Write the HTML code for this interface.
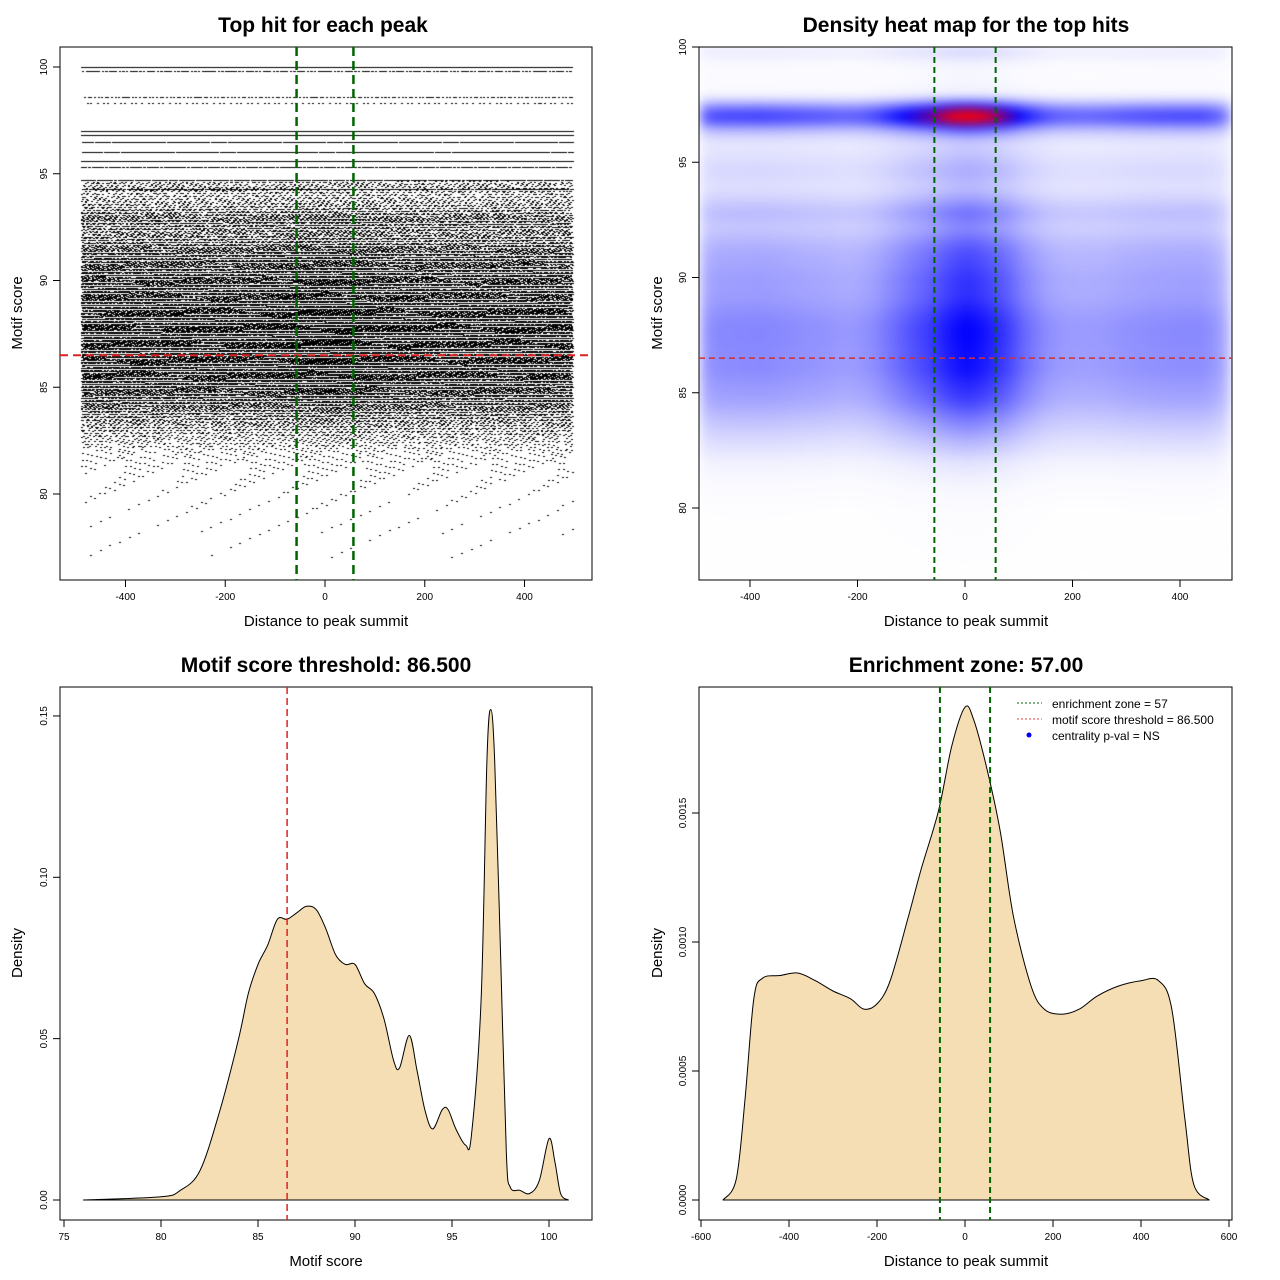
<!DOCTYPE html>
<html><head><meta charset="utf-8"><style>
body{margin:0;width:1280px;height:1280px;background:#fff;position:relative;overflow:hidden;font-family:"Liberation Sans",sans-serif}
canvas{position:absolute}
svg{position:absolute;left:0;top:0}
</style></head>
<body>
<canvas id="sc" width="532" height="533" style="left:60px;top:47px"></canvas>
<canvas id="hm" width="533" height="533" style="left:699px;top:47px"></canvas>
<svg id="s" width="1280" height="1280"></svg>
<script>
// Data arrays
const scoreDensX=[75,76,80,81,82,83,84,84.5,85,85.5,86,86.5,87,87.5,88,88.5,89,89.5,90,90.5,91,91.5,92,92.3,92.8,93.2,93.6,94,94.5,94.8,95.2,95.7,96,96.5,96.8,97,97.2,97.5,97.8,98,98.5,99,99.5,100,100.3,100.6,101];
const scoreDensY=[0,0,0.001,0.003,0.009,0.027,0.05,0.064,0.073,0.079,0.087,0.087,0.089,0.091,0.09,0.084,0.076,0.073,0.073,0.067,0.064,0.056,0.043,0.041,0.051,0.04,0.028,0.022,0.028,0.028,0.022,0.017,0.02,0.062,0.136,0.152,0.136,0.077,0.015,0.004,0.003,0.002,0.006,0.019,0.012,0.002,0];
const distDensX=[-550,-520,-500,-480,-460,-420,-380,-340,-300,-260,-230,-200,-170,-130,-100,-60,-30,0,20,50,80,110,150,180,220,260,300,350,400,440,470,500,520,555];
const distDensY=[0,0.00008,0.00039,0.00078,0.00086,0.00087,0.00088,0.00085,0.00081,0.00078,0.00074,0.00076,0.00085,0.00109,0.00128,0.00151,0.00176,0.00191,0.00186,0.00167,0.00143,0.0011,0.00083,0.00074,0.00072,0.00074,0.00079,0.00083,0.00085,0.00085,0.00074,0.00031,0.00006,0];
const discreteRows=[100,99.8,98.6,98.3,97,96.8,96.5,96.0,95.6,95.3,94.7,94.3];
const discreteCounts=[600,200,150,90,600,560,350,350,400,250,300,300];
const scoreThreshold=86.5;
const zone=57;
const p1XTicks=[-400,-200,0,200,400], p1YTicks=[80,85,90,95,100];
const p3XTicks=[75,80,85,90,95,100], p3YTicks=[0,0.05,0.10,0.15], p3YLabels=["0.00","0.05","0.10","0.15"];
const p4XTicks=[-600,-400,-200,0,200,400,600], p4YTicks=[0,0.0005,0.001,0.0015], p4YLabels=["0.0000","0.0005","0.0010","0.0015"];

const NS="http://www.w3.org/2000/svg";
const svg=document.getElementById('s');
function mk(tag,attrs,name,parent){
  const el=document.createElementNS(NS,tag);
  for(const k in attrs) el.setAttribute(k,attrs[k]);
  
  
  (parent||svg).appendChild(el);return el;
}
function txt(x,y,s,size,name,opts){
  opts=opts||{};
  const a={x:x,y:y,'font-size':size,'text-anchor':opts.anchor||'middle','font-family':'Liberation Sans, sans-serif',fill:'#000'};
  if(opts.bold)a['font-weight']='bold';
  if(opts.rot)a.transform='rotate(-90 '+x+' '+y+')';
  const t=mk('text',a,name);t.textContent=s;return t;
}
function interp(xs,ys,v){
  if(v<=xs[0])return ys[0]; if(v>=xs[xs.length-1])return ys[ys.length-1];
  for(let i=1;i<xs.length;i++) if(v<=xs[i]){const f=(v-xs[i-1])/(xs[i]-xs[i-1]);return ys[i-1]+f*(ys[i]-ys[i-1]);}
}
function frac(x){return x-Math.floor(x);}
const fsMax=Math.max(...scoreDensY), fxMax=Math.max(...distDensY);

// scales
const p1x=v=>325+v*0.4988, p1y=s=>67+(100-s)*21.35;
const p2x=v=>965+v*0.5375, p2y=s=>47+(100-s)*23.05;
const p3x=v=>64+(v-75)*19.4, p3y=d=>1200-d*3227;
const p4x=v=>965+v*0.44, p4y=d=>1200-d*258000;

function box(x,y,w,h,name){mk('rect',{x:x,y:y,width:w,height:h,fill:'none',stroke:'#000','stroke-width':1},name);}
function xAxis(ticks,sx,y0,name,labels){
  mk('line',{x1:sx(ticks[0]),x2:sx(ticks[ticks.length-1]),y1:y0,y2:y0,stroke:'#000'},name+'-line');
  ticks.forEach((t,i)=>{mk('line',{x1:sx(t),x2:sx(t),y1:y0,y2:y0+7,stroke:'#000'},name+'-tick');
    txt(sx(t),y0+20,labels?labels[i]:String(t),10,name+'-label');});
}
function yAxis(ticks,sy,x0,name,labels){
  mk('line',{x1:x0,x2:x0,y1:sy(ticks[0]),y2:sy(ticks[ticks.length-1]),stroke:'#000'},name+'-line');
  ticks.forEach((t,i)=>{mk('line',{x1:x0-7,x2:x0,y1:sy(t),y2:sy(t),stroke:'#000'},name+'-tick');
    txt(x0-13,sy(t),labels?labels[i]:String(t),10,name+'-label',{rot:1});});
}

// ---------- Panel 1 scatter ----------
const sc=document.getElementById('sc').getContext('2d');
sc.fillStyle='#000';
function dot(v,s){sc.fillRect(Math.round(p1x(v)-60),Math.round(p1y(s)-47),2,1);}
let rowIdx=0;
for(let s=77;s<=94.6;s+=0.05){
  rowIdx++;
  const n=Math.round(interp(scoreDensX,scoreDensY,s)*3000);
  const off1=frac(rowIdx*0.7548776662), off2=frac(rowIdx*0.5698402910);
  for(let i=0;i<n;i++){
    const v=-490+985*frac(i*0.6180339887+off1);
    const w=0.8+0.2*interp(distDensX,distDensY,v)/fxMax;
    if(frac(i*0.4142135+off2)>w)continue;
    dot(v,s+0.05*frac(i*0.3819660+off2));
  }
}
discreteRows.forEach((s,j)=>{
  const n=discreteCounts[j];
  for(let i=0;i<n;i++){dot(-490+985*frac(i*0.6180339887+j*0.31),s);}
});
box(60,47,532,533,'panel1-plot-box');
xAxis(p1XTicks,p1x,580,'panel1-x-axis');
yAxis(p1YTicks,p1y,60,'panel1-y-axis');
mk('line',{x1:60,x2:592,y1:p1y(scoreThreshold),y2:p1y(scoreThreshold),stroke:'#e02020','stroke-width':2,'stroke-dasharray':'8,5'},'threshold-line');
[-zone,zone].forEach(z=>mk('line',{x1:p1x(z),x2:p1x(z),y1:47,y2:580,stroke:'#006400','stroke-width':2.5,'stroke-dasharray':'9,5'},'zone-line'));
txt(323,32,'Top hit for each peak',21,'panel1-title',{bold:1});
txt(326,626,'Distance to peak summit',15,'panel1-x-title');
txt(22,313,'Motif score',15,'panel1-y-title',{rot:1});

// ---------- Panel 2 heatmap ----------
(function(){
  const W=533,H=533;
  const tmp=document.createElement('canvas');tmp.width=W;tmp.height=H;
  const tc=tmp.getContext('2d');const img=tc.createImageData(W,H);
  const fx=[],fs=[];
  for(let px=0;px<W;px++){fx.push(interp(distDensX,distDensY,(px+699-965)/0.5375)/fxMax);}
  for(let py=0;py<H;py++){fs.push(interp(scoreDensX,scoreDensY,100-py/23.05)/fsMax);}
  for(let py=0;py<H;py++)for(let px=0;px<W;px++){
    let t=fx[px]*fs[py];
    let r,g,b;
    if(t<0.6){const u=Math.pow(t/0.6,0.95);r=255*(1-u);g=255*(1-u);b=255;}
    else{const u=Math.min(1,(t-0.6)/0.28);r=255*u;g=0;b=255*(1-u);}
    const k=(py*W+px)*4;img.data[k]=r;img.data[k+1]=g;img.data[k+2]=b;img.data[k+3]=255;
  }
  tc.putImageData(img,0,0);
  const hc=document.getElementById('hm').getContext('2d');
  hc.fillStyle='#fff';hc.fillRect(0,0,W,H);
  hc.filter='blur(5px)';hc.drawImage(tmp,0,0);hc.filter='none';
})();
box(699,47,533,533,'panel2-plot-box');
xAxis([-400,-200,0,200,400],p2x,580,'panel2-x-axis');
yAxis(p1YTicks,p2y,699,'panel2-y-axis');
mk('line',{x1:699,x2:1232,y1:p2y(scoreThreshold),y2:p2y(scoreThreshold),stroke:'#d03030','stroke-width':1.5,'stroke-dasharray':'6,4'},'heatmap-threshold-line');
[-zone,zone].forEach(z=>mk('line',{x1:p2x(z),x2:p2x(z),y1:47,y2:580,stroke:'#006400','stroke-width':2,'stroke-dasharray':'6,4'},'heatmap-zone-line'));
txt(966,32,'Density heat map for the top hits',21,'panel2-title',{bold:1});
txt(966,626,'Distance to peak summit',15,'panel2-x-title');
txt(662,313,'Motif score',15,'panel2-y-title',{rot:1});

// ---------- Panel 3 ----------
function area(xs,ys,sx,sy,name){
  const P=xs.map((x,i)=>[sx(x),sy(ys[i])]);
  let d='M'+P[0][0].toFixed(1)+','+sy(0)+' L'+P[0][0].toFixed(1)+','+P[0][1].toFixed(1);
  for(let i=0;i<P.length-1;i++){
    const p0=P[Math.max(0,i-1)],p1=P[i],p2=P[i+1],p3=P[Math.min(P.length-1,i+2)];
    const c1=[p1[0]+(p2[0]-p0[0])/6,p1[1]+(p2[1]-p0[1])/6];
    const c2=[p2[0]-(p3[0]-p1[0])/6,p2[1]-(p3[1]-p1[1])/6];
    c1[1]=Math.min(c1[1],sy(0));c2[1]=Math.min(c2[1],sy(0));
    d+=' C'+c1[0].toFixed(1)+','+c1[1].toFixed(1)+' '+c2[0].toFixed(1)+','+c2[1].toFixed(1)+' '+p2[0].toFixed(1)+','+p2[1].toFixed(1);
  }
  d+=' L'+P[P.length-1][0].toFixed(1)+','+sy(0)+' Z';
  mk('path',{d:d,fill:'#F5DEB3',stroke:'#000','stroke-width':1,'stroke-linejoin':'round'},name);
}
area(scoreDensX.slice(1),scoreDensY.slice(1),p3x,p3y,'score-density-area');
box(60,687,532,533,'panel3-plot-box');
xAxis(p3XTicks,p3x,1220,'panel3-x-axis');
yAxis(p3YTicks,p3y,60,'panel3-y-axis',p3YLabels);
mk('line',{x1:p3x(scoreThreshold),x2:p3x(scoreThreshold),y1:687,y2:1220,stroke:'#e02020','stroke-width':1.5,'stroke-dasharray':'7,4'},'score-threshold-line');
txt(326,672,'Motif score threshold: 86.500',21,'panel3-title',{bold:1});
txt(326,1266,'Motif score',15,'panel3-x-title');
txt(22,953,'Density',15,'panel3-y-title',{rot:1});

// ---------- Panel 4 ----------
area(distDensX,distDensY,p4x,p4y,'distance-density-area');
box(699,687,533,533,'panel4-plot-box');
xAxis(p4XTicks,p4x,1220,'panel4-x-axis');
yAxis(p4YTicks,p4y,699,'panel4-y-axis',p4YLabels);
[-zone,zone].forEach(z=>mk('line',{x1:p4x(z),x2:p4x(z),y1:687,y2:1220,stroke:'#006400','stroke-width':2,'stroke-dasharray':'6,4'},'enrichment-zone-line'));
txt(966,672,'Enrichment zone: 57.00',21,'panel4-title',{bold:1});
txt(966,1266,'Distance to peak summit',15,'panel4-x-title');
txt(662,953,'Density',15,'panel4-y-title',{rot:1});
// legend
mk('line',{x1:1017,x2:1042,y1:703,y2:703,stroke:'#006400','stroke-dasharray':'2,2'},'legend-zone-swatch');
txt(1052,708,'enrichment zone = 57',12,'legend-zone-label',{anchor:'start'});
mk('line',{x1:1017,x2:1042,y1:719,y2:719,stroke:'#e04040','stroke-dasharray':'2,2'},'legend-threshold-swatch');
txt(1052,724,'motif score threshold = 86.500',12,'legend-threshold-label',{anchor:'start'});
mk('circle',{cx:1029,cy:735,r:2.5,fill:'#0000ff'},'legend-pval-swatch');
txt(1052,740,'centrality p-val = NS',12,'legend-pval-label',{anchor:'start'});
</script>
</body></html>
